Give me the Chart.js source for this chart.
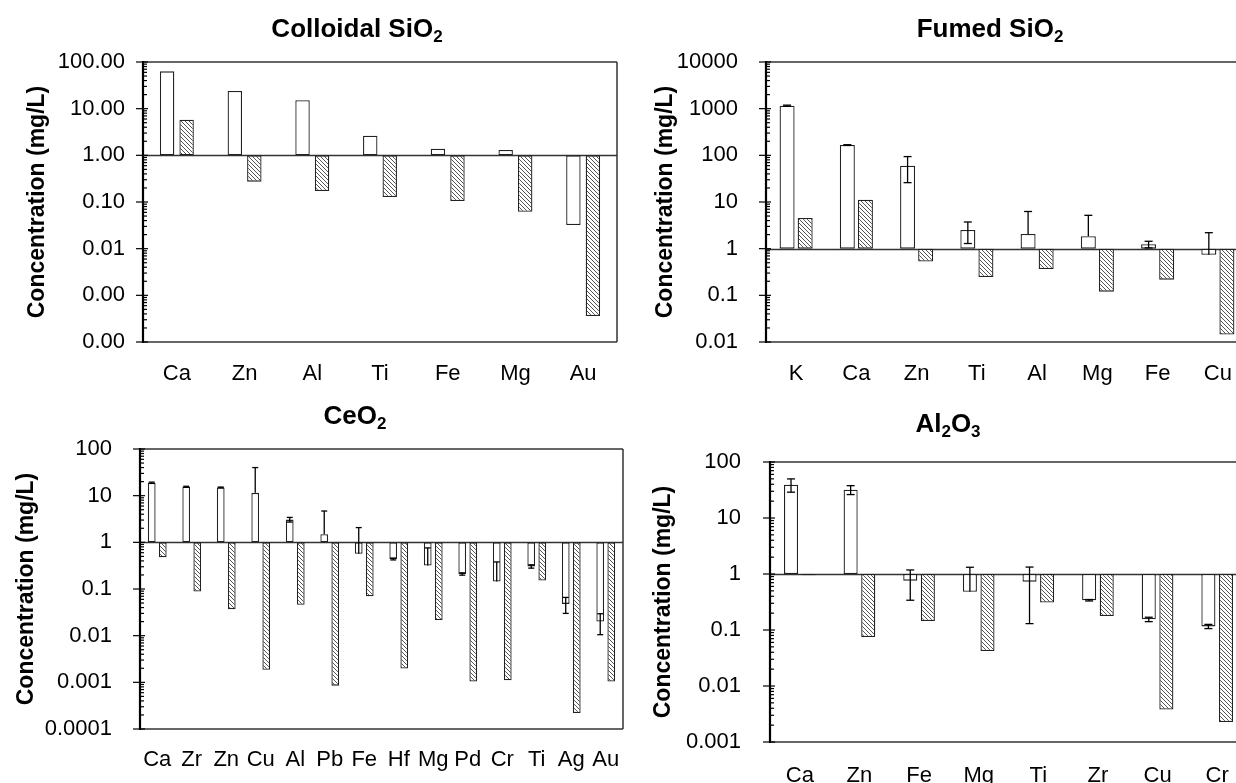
<!DOCTYPE html>
<html>
<head>
<meta charset="utf-8">
<script src="https://cdn.jsdelivr.net/npm/chart.js@4.4.0/dist/chart.umd.min.js"></script>
<style>
html, body { margin:0; padding:0; background:#fff; overflow:hidden; width:1236px; height:783px; }
canvas { position:absolute; }
.ttl { position:absolute; z-index:2; font:bold 26px "Liberation Sans", Arial, sans-serif; line-height:26px;
       transform:translateX(-50%); white-space:nowrap; color:#000; }
.ttl sub { font-size:17px; vertical-align:-5px; line-height:0; }
</style>
</head>
<body>
<div class="ttl" style="left:357px;top:15px">Colloidal SiO<sub>2</sub></div>
<div class="ttl" style="left:990px;top:15px">Fumed SiO<sub>2</sub></div>
<div class="ttl" style="left:355px;top:402px">CeO<sub>2</sub></div>
<div class="ttl" style="left:948px;top:410px">Al<sub>2</sub>O<sub>3</sub></div>

<canvas id="colloidal" width="625" height="390" style="left:0;top:0"></canvas>
<canvas id="fumed" width="630" height="390" style="left:620px;top:0"></canvas>
<canvas id="ceria" width="630" height="393" style="left:0;top:390px"></canvas>
<canvas id="alumina" width="620" height="393" style="left:630px;top:390px"></canvas>

<script>
// data (white = first series, hatched = second series)
const colloidalElements = ['Ca', 'Zn', 'Al', 'Ti', 'Fe', 'Mg', 'Au'];
const colloidalWhite = [63, 23.9, 15.1, 2.64, 1.39, 1.30, 0.032];
const colloidalHatched = [5.8, 0.273, 0.172, 0.128, 0.105, 0.062, 0.00036];
const colloidalErr = [0, 0, 0, 0, 0, 0, 0];
const colloidalTicks = [100, 10, 1, 0.1, 0.01, 0.001, 0.0001];
const colloidalTickLabels = ['100.00', '10.00', '1.00', '0.10', '0.01', '0.00', '0.00'];

const fumedElements = ['K', 'Ca', 'Zn', 'Ti', 'Al', 'Mg', 'Fe', 'Cu'];
const fumedWhite = [1160, 166, 60, 2.51, 2.06, 1.84, 1.24, 0.74];
const fumedHatched = [4.54, 11.2, 0.53, 0.247, 0.367, 0.12, 0.217, 0.0144];
const fumedErr = [30, 3, 34, 1.22, 4.2, 3.34, 0.2, 1.46];
const fumedTicks = [10000, 1000, 100, 10, 1, 0.1, 0.01];
const fumedTickLabels = ['10000', '1000', '100', '10', '1', '0.1', '0.01'];

const ceriaElements = ['Ca', 'Zr', 'Zn', 'Cu', 'Al', 'Pb', 'Fe', 'Hf', 'Mg', 'Pd', 'Cr', 'Ti', 'Ag', 'Au'];
const ceriaWhite = [18.9, 15.5, 15, 11.5, 3.07, 1.49, 0.57, 0.44, 0.32, 0.21, 0.145, 0.305, 0.048, 0.02];
const ceriaHatched = [0.48, 0.088, 0.037, 0.00186, 0.046, 0.00085, 0.070, 0.00198, 0.0217, 0.00104, 0.00111, 0.152, 0.00022, 0.00104];
const ceriaErr = [0.6, 0.4, 0.3, 28.5, 0.35, 3.2, 1.5, 0.02, 0.44, 0.012, 0.235, 0.025, 0.018, 0.0095];
const ceriaTicks = [100, 10, 1, 0.1, 0.01, 0.001, 0.0001];
const ceriaTickLabels = ['100', '10', '1', '0.1', '0.01', '0.001', '0.0001'];

const aluminaElements = ['Ca', 'Zn', 'Fe', 'Mg', 'Ti', 'Zr', 'Cu', 'Cr'];
const aluminaWhite = [39.4, 32, 0.76, 0.48, 0.73, 0.34, 0.155, 0.116];
const aluminaHatched = [0.95, 0.075, 0.145, 0.042, 0.31, 0.178, 0.0038, 0.00228];
const aluminaErr = [10.5, 5.8, 0.42, 0.84, 0.6, 0.01, 0.014, 0.01];
const aluminaTicks = [100, 10, 1, 0.1, 0.01, 0.001];
const aluminaTickLabels = ['100', '10', '1', '0.1', '0.01', '0.001'];

Chart.defaults.font.family = '"Liberation Sans", Arial, sans-serif';
Chart.defaults.color = '#000';

function makeHatch() {
    var c = document.createElement('canvas');
    c.width = 4; c.height = 4;
    var g = c.getContext('2d');
    g.fillStyle = '#fff';
    g.fillRect(0, 0, 4, 4);
    g.strokeStyle = '#555';
    g.lineWidth = 1;
    g.beginPath();
    g.moveTo(0, 0); g.lineTo(4, 4);
    g.moveTo(-1, 3); g.lineTo(1, 5);
    g.moveTo(3, -1); g.lineTo(5, 1);
    g.stroke();
    return g.createPattern(c, 'repeat');
}
const hatch = makeHatch();

function seg(ctx, x1, y1, x2, y2) {
    ctx.beginPath(); ctx.moveTo(x1, y1); ctx.lineTo(x2, y2); ctx.stroke();
}

// baseline at 1, box, log ticks and error bars
const framePlugin = {
    id: 'frame',
    beforeDatasetsDraw(chart) {
        const ctx = chart.ctx, a = chart.chartArea, y = chart.scales.y;
        ctx.save();
        ctx.strokeStyle = '#333';
        ctx.lineWidth = 1.3;
        const y1 = Math.round(y.getPixelForValue(1)) + 0.5;
        seg(ctx, a.left, y1, a.right, y1);
        ctx.restore();
    },
    afterDatasetsDraw(chart, args, opts) {
        const ctx = chart.ctx, a = chart.chartArea, y = chart.scales.y;
        const meta = chart.getDatasetMeta(0);
        const vals = chart.data.datasets[0].data;
        const cap = opts.cap || 8;
        ctx.save();
        ctx.strokeStyle = '#000';
        ctx.lineWidth = 1.3;
        (opts.errors || []).forEach(function (e, i) {
            if (!e) return;
            const v = vals[i][1];
            const x = meta.data[i].x;
            const yTop = y.getPixelForValue(v + e);
            const hasLow = v - e > 0;
            const yBot = y.getPixelForValue(hasLow ? v - e : v);
            seg(ctx, x, yTop, x, yBot);
            seg(ctx, x - cap / 2, yTop, x + cap / 2, yTop);
            if (hasLow) seg(ctx, x - cap / 2, yBot, x + cap / 2, yBot);
        });

        // box
        ctx.strokeStyle = '#333';
        ctx.lineWidth = 1.5;
        seg(ctx, a.left, a.top, a.right, a.top);
        seg(ctx, a.right, a.top, a.right, a.bottom);
        seg(ctx, a.left, a.bottom, a.right, a.bottom);
        ctx.strokeStyle = '#000';
        ctx.lineWidth = 2.2;
        seg(ctx, a.left, a.top - 1, a.left, a.bottom + 1);

        // log ticks
        ctx.lineWidth = 1.2;
        const lo = Math.round(Math.log10(y.min)), hi = Math.round(Math.log10(y.max));
        for (let k = lo; k <= hi; k++) {
            const ym = y.getPixelForValue(Math.pow(10, k));
            seg(ctx, a.left - 7, ym, a.left + 5, ym);
            if (k === hi) continue;
            for (let m = 2; m <= 9; m++) {
                const yy = y.getPixelForValue(m * Math.pow(10, k));
                seg(ctx, a.left, yy, a.left + 4, yy);
            }
        }
        ctx.restore();
    }
};

function buildChart(id, labels, white, hatched, errors, tickVals, tickLabels, lay) {
    var ctx = document.getElementById(id);
    return new Chart(ctx, {
        type: 'bar',
        data: {
            labels: labels,
            datasets: [{
                data: white.map(function (v) { return [1, v]; }),
                backgroundColor: '#fff',
                borderColor: '#222',
                borderWidth: 1.3,
                borderSkipped: false
            }, {
                data: hatched.map(function (v) { return [1, v]; }),
                backgroundColor: hatch,
                borderColor: '#222',
                borderWidth: 1.3,
                borderSkipped: false
            }]
        },
        options: {
            responsive: false,
            animation: false,
            layout: { padding: { top: lay.top, right: lay.right, left: 0, bottom: 0 } },
            datasets: { bar: { categoryPercentage: lay.cat, barPercentage: lay.bar } },
            plugins: {
                legend: { display: false },
                tooltip: { enabled: false },
                frame: { errors: errors, cap: lay.cap }
            },
            scales: {
                x: {
                    grid: { display: false },
                    border: { display: false },
                    ticks: { color: '#000', font: { size: 22 }, padding: lay.xpad, maxRotation: 0, autoSkip: false },
                    afterFit: function (s) { s.height = lay.xh; }
                },
                y: {
                    type: 'logarithmic',
                    min: tickVals[tickVals.length - 1],
                    max: tickVals[0],
                    grid: { display: false },
                    border: { display: false },
                    afterBuildTicks: function (s) {
                        s.ticks = tickVals.map(function (v) { return { value: v }; });
                    },
                    ticks: {
                        color: '#000', font: { size: 22 }, padding: lay.ypad, autoSkip: false,
                        callback: function (v, i) { return tickLabels[i]; }
                    },
                    title: {
                        display: true, text: 'Concentration (mg/L)', color: '#000',
                        font: { size: 23, weight: 'bold' }, padding: { top: lay.tpad, bottom: 0 }
                    },
                    afterFit: function (s) { s.width = lay.yw; }
                }
            }
        },
        plugins: [framePlugin]
    });
}

buildChart('colloidal', colloidalElements, colloidalWhite, colloidalHatched, colloidalErr,
    colloidalTicks, colloidalTickLabels,
    { top: 62, right: 8, yw: 143, xh: 48, xpad: 11, ypad: 10, tpad: 24, cat: 0.576, bar: 0.74, cap: 8 });

buildChart('fumed', fumedElements, fumedWhite, fumedHatched, fumedErr,
    fumedTicks, fumedTickLabels,
    { top: 62, right: 2, yw: 146, xh: 48, xpad: 11, ypad: 20, tpad: 32, cat: 0.6, bar: 0.83, cap: 8 });

buildChart('ceria', ceriaElements, ceriaWhite, ceriaHatched, ceriaErr,
    ceriaTicks, ceriaTickLabels,
    { top: 59, right: 7, yw: 140, xh: 54, xpad: 10, ypad: 20, tpad: 13, cat: 0.64, bar: 0.7, cap: 6 });

buildChart('alumina', aluminaElements, aluminaWhite, aluminaHatched, aluminaErr,
    aluminaTicks, aluminaTickLabels,
    { top: 72, right: 3, yw: 140, xh: 41, xpad: 13, ypad: 21, tpad: 20, cat: 0.59, bar: 0.8, cap: 8 });
</script>
</body>
</html>
